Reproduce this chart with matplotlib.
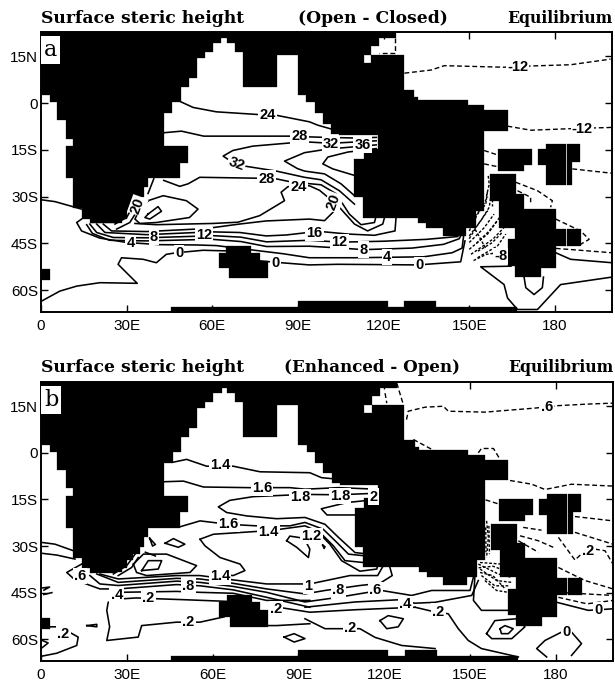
#!/usr/bin/env python3
import matplotlib
matplotlib.use('Agg')
import matplotlib.pyplot as plt

# ── land mask: (lat top, lat bottom, [(lon0, lon1), ...]) ─────────────────────
land_bands = [
    (22.8, 20.9, [(0, 124.4)]),
    (20.9, 19.2, [(0, 63.2), (65, 118.5)]),
    (19.2, 18.2, [(0, 60.3), (68, 118.5)]),
    (18.2, 16.3, [(0, 60.3), (68, 115.6)]),
    (16.3, 15.5, [(0, 57.3), (70.7, 115.6)]),
    (15.5, 14.4, [(0, 57.3), (70.7, 82.6), (90, 113), (115.6, 127)]),
    (14.4, 12.8, [(0, 54.7), (70.7, 82.6), (90, 113), (115.6, 127)]),
    (12.8, 8, [(0, 54.7), (70.7, 82.6), (90, 127)]),
    (8, 5.1, [(0, 51.7), (70.7, 82.6), (90, 127)]),
    (5.1, 4.2, [(0, 49), (90, 127)]),
    (4.2, 2.6, [(0, 49), (90, 130.8)]),
    (2.6, 2, [(3.1, 49), (92.9, 130.8)]),
    (2, 1, [(3.1, 49), (92.9, 132)]),
    (1, 0.4, [(3.1, 49), (92.9, 149.4)]),
    (0.4, -0.6, [(5.7, 46), (95.8, 149.4)]),
    (-0.6, -2.3, [(5.7, 46), (95.8, 155.2)]),
    (-2.3, -3.3, [(5.7, 46), (95.8, 163.4)]),
    (-3.3, -5.5, [(5.7, 43.1), (98.7, 163.4)]),
    (-5.5, -6.6, [(8.6, 43.1), (98.7, 163.4)]),
    (-6.6, -8.9, [(8.6, 43.1), (101.6, 163.4)]),
    (-8.9, -9.8, [(8.6, 43.1), (101.6, 155.2)]),
    (-9.8, -10.3, [(8.6, 43.1), (104.5, 155.2)]),
    (-10.3, -11.4, [(8.6, 43.1), (118, 155.2)]),
    (-11.4, -13.9, [(11.3, 43.1), (118, 155.2)]),
    (-13.9, -14.6, [(8.6, 51.5), (118, 155.2)]),
    (-14.6, -17.8, [(8.6, 51.5), (113, 155.2)]),
    (-17.8, -19.1, [(8.6, 51.5), (109.8, 155.2)]),
    (-19.1, -24.1, [(8.6, 48.6), (109.8, 155.2)]),
    (-24.1, -27, [(11.3, 37.5), (109.8, 155.2)]),
    (-27, -30.2, [(11.3, 36), (109.8, 155.2)]),
    (-30.2, -32.4, [(11.3, 34.6), (112.7, 155.2)]),
    (-32.4, -33.8, [(11.3, 32.3), (112.7, 155.2)]),
    (-33.8, -34.5, [(14.2, 32.3), (112.7, 155.2)]),
    (-34.5, -36.7, [(14.2, 30), (112.7, 152.3)]),
    (-36.7, -37.2, [(14.2, 30), (132, 152.3)]),
    (-37.2, -38.3, [(17.1, 28.2), (132, 152.3)]),
    (-38.3, -38.6, [(17.1, 25.9), (134.8, 152.3)]),
    (-38.6, -39.9, [(134.8, 152.3)]),
    (-39.9, -42.6, [(140.7, 148.8)]),
    # block east of 155E
    (-22.9, -29.1, [(157.3, 166.3)]),
    (-29.1, -31.3, [(157.3, 169.2)]),
    (-31.3, -34, [(160.5, 169.2)]),
    (-34, -39.9, [(160.5, 180.3)]),
    (-39.9, -40.4, [(166, 180.3)]),
    (-40.4, -43.7, [(166, 184), (184.4, 189)]),
    (-43.7, -45.8, [(163.4, 184), (184.4, 189)]),
    (-45.8, -52.3, [(163.4, 180.3)]),
    (-52.3, -52.8, [(166, 180.3)]),
    (-52.8, -55.8, [(166, 175)]),
    # islands
    (-14.8, -20, [(160.1, 172.1)]),
    (-20, -21.8, [(160.1, 169.2)]),
    (-13.2, -14.8, [(177, 184), (184.4, 188.8)]),
    (-14.8, -18.9, [(174.1, 184), (184.4, 188.8)]),
    (-18.9, -20, [(174.1, 184), (184.4, 186.1)]),
    (-20, -26.2, [(177, 184), (184.4, 186.1)]),
    (-45.8, -48, [(64.9, 73.7)]),
    (-48, -50.6, [(62.2, 76.6)]),
    (-50.6, -52.8, [(62.2, 79.5)]),
    (-52.8, -56, [(66, 79.5)]),
    (-53.1, -56.6, [(0, 3.1)]),
    (-63.5, -65.5, [(90, 121.4), (127.3, 138.3)]),
    (-65.5, -67.3, [(45.5, 166.9)]),
]

# ── panel a: contours as (lon, lat) ───────────────────────────────────────────
a_solid = [
    [(49, 0.4), (53.3, -1.4), (61.4, -2.8), (76.6, -3.7), (82.4, -3.9), (94, -6), (97, -7.1), (102, -8.4)],
    [(43.1, -9.5), (49.2, -9), (57, -10.6), (87, -10.6), (92.5, -10.8), (100, -11), (110, -11.2), (117.5, -11)],
    [(117.4, -12.1), (101.6, -12.9), (94, -12.5), (87, -12.8), (74.2, -13.8), (67.2, -15.2), (63.8, -17),
     (66.1, -18.4), (71.3, -20.2), (82.4, -21.8), (92.3, -23.8), (98.1, -24.6), (104.5, -28.1), (109.8, -32.4)],
    [(117.4, -13.4), (100, -14.8), (92.3, -15.9), (85.3, -18.6), (89.8, -21), (92.3, -21.8), (99.3, -22.7),
     (105.1, -25.9), (109.8, -29.7)],
    [(117.4, -14.6), (107.5, -15.7), (100.5, -17.3), (98.7, -19.5), (102.2, -21.1), (109.8, -23.2)],
    [(43, -24.8), (48.6, -26.7), (51.5, -25.9), (55.6, -23.8), (76.6, -24.1), (82.4, -24.3), (88.2, -25.4),
     (92.3, -25.7), (98.1, -26.2), (103.4, -29.1), (108, -35.6), (112.1, -39), (116.8, -38.3), (117.4, -36.1)],
    [(32.9, -38.6), (40.4, -39), (60.3, -38.6), (69, -38.2), (76.6, -36.1), (85.3, -31.3), (84.1, -28.6),
     (86.5, -26.8), (94, -26.5), (97.6, -28), (100.5, -30.2), (100.7, -32.4), (102.2, -33.7), (104.3, -31.8),
     (102.2, -30)],
    [(37.5, -31.3), (42.8, -29.7), (50.9, -31.3), (55, -34), (52, -36.7), (40.4, -38.3), (34.6, -38.6),
     (32.9, -37.2), (34.6, -34), (37.5, -31.3)],
    [(37.5, -35.6), (41, -33.2), (42.2, -34.7), (38.1, -37.2), (36.4, -36.7), (37.5, -35.6)],
    [(25.9, -38.8), (30, -36.7), (32.3, -32.9)],
    [(26.5, -40.4), (31.1, -38.3), (33.4, -35)],
    [(37.5, -29), (39.5, -24.3)],
    [(0, -31), (4.9, -31.6), (14.2, -34)],
    [(21.8, -38.8), (24.7, -41), (37, -41.2), (54.4, -40.4), (59.7, -40), (69.5, -38.8), (78.8, -37.8),
     (94, -37.2), (99.3, -37.7), (103.4, -34), (104.5, -33.4), (109.8, -38.8), (114.4, -41), (119.7, -38.8),
     (120.5, -36.1)],
    [(19.5, -38.8), (22.4, -41.5), (37, -42.2), (54.4, -41.5), (59.7, -41.3), (69.6, -41.5), (78.9, -42.6),
     (85.9, -42.3), (93.5, -41.5), (98.1, -41.2), (107.5, -42), (116.8, -42.4), (124, -41), (124.4, -36.1)],
    [(17.1, -38.8), (19.5, -41.5), (25.3, -43.1), (37, -43.2), (54.4, -42.7), (60, -42.5), (70, -43),
     (79, -44.5), (94, -44), (105, -44.6), (120, -44.3), (135, -43.7), (146, -42.8)],
    [(16, -39), (18, -41.8), (24, -44), (37, -44.2), (54.4, -43.8), (60, -43.7), (70, -44.4), (79, -46),
     (94, -45.9), (105, -46.5), (113, -47), (130, -46.5), (141, -45.3), (146.5, -43.5), (147, -42.6)],
    [(14.2, -37.2), (12.5, -38.3), (14.2, -41), (20.6, -43.3), (30, -44.7), (41.6, -45.4), (54.4, -45.5),
     (61.4, -45.7), (73, -47), (84.7, -48.3), (94, -49.6), (110, -49.6), (134, -49.3), (144, -48),
     (147.5, -46.5), (148, -42.8)],
    [(0.2, -63.5), (6.6, -60.3), (12.5, -58.7), (20.6, -57.6), (33.7, -57.8), (30.5, -54.9), (27, -51.7),
     (28.2, -49.6), (35.8, -50.1), (40.4, -51.2), (43.9, -48.5), (47.4, -48), (56.8, -47.2), (64.9, -47.4)],
    [(76.6, -50.6), (84.1, -51.2), (94, -51.9), (104, -51.7), (132, -51.9), (147, -50.9), (148.5, -44.2)],
    [(164.6, -52.3), (154, -52.5), (162.2, -58.2), (163.4, -62.5), (166.9, -66.2), (173.9, -66.2),
     (182, -58.2), (200, -55.8)],
    [(180.3, -48), (185.5, -50.1), (200, -51.2)],
    [(169.2, -55.8), (169.8, -59.2), (172.7, -61.4), (175.6, -59.2), (176, -55.8)],
]
a_dashed = [
    [(127.3, 9.6), (136.6, 10.6), (141.3, 12), (162.2, 11.5), (171.6, 11.9), (185.5, 12.3), (199.5, 14.1)],
    [(163.4, -7.4), (171.6, -8.7), (185.5, -8.2), (200, -7.8)],
    [(155.2, -15.2), (160.5, -16.8)],
    [(155.2, -19.5), (160.5, -20.5)],
    [(186.1, -21.1), (200, -22.5)],
    [(166.3, -25.4), (173.9, -28.1), (179.1, -31.3), (178.5, -33.4)],
    [(166.9, -28.1), (171.5, -30.2), (171.5, -31.8)],
    [(180.3, -37.2), (189, -41), (192, -43.7), (189, -45.3)],
    [(180.3, -46.6), (200, -48)],
    [(124, 20.9), (124, 16), (118.5, 16)],
]
a_fine = [
    [(150, -41), (152.9, -35.6), (155.8, -32.4), (156.4, -28.1)],
    [(150, -42.6), (154, -37.8), (157, -33.4), (157.5, -30.2)],
    [(150, -44.7), (155.2, -40), (158.7, -35.6)],
    [(150, -46.9), (156.4, -42), (159.9, -37.7)],
    [(150.6, -48.5), (158.2, -43.7), (162.2, -39.9)],
    [(152.9, -49.6), (159.9, -45.8), (162.8, -42)],
    [(150, -39.4), (151.7, -35)],
    [(151, -37.5), (154, -34), (156.5, -30)],
    [(152.5, -45), (157, -41), (160.8, -36.5)],
    [(153, -47.5), (158, -44.8), (161.5, -41.5)],
    [(151.5, -50.5), (156, -48.5), (160, -48)],
    [(150, -43.5), (153, -39), (156.5, -34.5)],
    [(156, -30), (157, -26), (156.6, -23)],
    [(158, -28), (158, -33)],
    [(150.5, -38), (153, -42), (156, -47)],
]
a_labels = [
    ('24', 79.3, -3.7), ('28', 90.6, -10.6), ('32', 101.6, -13.1), ('36', 112.7, -13.3), ('32', 68.4, -19.5, -20),
    ('28', 79, -24.2), ('24', 90.3, -27), ('20', 102.5, -31.8, 70), ('20', 33.9, -32.9, 70), ('4', 31.4, -44.8),
    ('8', 39.5, -42.8), ('12', 57, -42.4), ('16', 95.8, -41.7), ('12', 104.5, -44.7), ('8', 113, -47),
    ('4', 121.2, -49.3), ('0', 132.5, -51.9), ('0', 48.4, -48), ('0', 82.2, -51.2), ('-8', 161, -49),
    ('-12', 166.9, 11.7), ('-12', 189.6, -8.2),
]

# ── panel b ───────────────────────────────────────────────────────────────────
b_solid = [
    [(46.3, -3), (50.9, -2.1), (57.9, -4.3), (67.2, -4.3), (76.6, -6.1), (94, -6.4), (98.1, -8), (104, -8.5)],
    [(43.1, -9.3), (49.8, -9.1), (56.8, -11), (72.5, -11.2), (87, -11.2), (92.3, -11.7), (104, -11.2), (117.4, -11.7)],
    [(117.4, -13), (104, -13.5), (94, -13.4), (86.5, -13.6), (74.2, -14.1), (66, -15.3), (62, -17.4), (64.9, -19.2),
     (71.9, -20.3), (82.4, -21.2), (92.3, -20.8), (99.3, -23), (104, -27.2), (109.8, -32.1), (112.7, -32.4)],
    [(117.4, -15), (107, -16), (98, -18), (100, -20), (110, -20), (113, -18.5)],
    [(48.6, -23.8), (55.6, -21.9), (65.5, -23), (75.4, -23.5), (87, -23.5), (92.3, -22.4), (98.7, -24.6),
     (103.4, -28.8), (107.5, -32.6), (112.7, -33.1)],
    [(55.6, -27.8), (60.3, -26.2), (75.4, -25.3), (83.6, -24.6), (92.3, -23.5), (97.5, -25.6), (102.2, -29.9),
     (106.3, -34.7), (112.7, -35.3)],
    [(55.6, -27.8), (57.3, -29.9), (62.6, -33.7), (69.6, -35.8), (71.3, -37.9), (67.2, -39.5), (63, -39.2)],
    [(98.1, -26.7), (101, -29.4), (105.1, -34.7), (111.5, -38.1), (117.4, -37.4), (118.2, -34.2)],
    [(85.9, -28.3), (89.4, -30.4), (93.5, -33.7), (94, -31), (92, -27.5), (87, -26.8), (85.9, -28.3)],
    [(119.7, -36.3), (117.7, -39.5), (108, -39.5), (94, -42.2), (78.9, -42.2), (67.2, -40.9), (55.6, -39.5),
     (47.4, -39.5), (27, -40.6), (20.6, -39)],
    [(122, -36.9), (122.8, -39.5), (118.5, -42), (111.5, -42.7), (99.3, -44.3), (92.3, -45.4), (78.9, -43.8),
     (67.2, -42), (55.6, -40.6), (47.4, -40.4), (27, -41.7), (19.5, -39)],
    [(114.4, -44.9), (104, -46.5), (92.3, -48), (78.9, -44.9), (67.2, -43), (55.6, -41.7), (47.4, -41.3), (27, -42.7),
     (20.6, -42.2), (17.1, -39.5)],
    [(119.1, -44.3), (129.6, -45.9), (136.6, -44.3), (143.6, -44.3), (150, -44.3), (151.2, -40)],
    [(92.3, -49.7), (109.8, -48), (124.9, -47.3), (130.8, -48.4), (137.8, -48.1), (150.6, -45.9), (152.9, -41.1)],
    [(94, -49.7), (78.9, -46.5), (67.2, -44.1), (55.6, -42.8), (47.4, -42.4), (27, -43.8), (20.6, -43.8),
     (11.9, -40.9), (9, -38.5), (14.2, -35.8)],
    [(94, -47.5), (78.9, -47.5), (67.2, -45.2), (55.6, -44.9), (47.4, -44.6), (27, -44.9)],
    [(130.8, -49.7), (137.2, -51.1), (142.4, -51.8), (145.9, -56.6), (149.4, -60.4), (154, -63), (166.9, -65.7)],
    [(83, -49.7), (94, -51.3), (110, -50.5), (130.8, -49.7)],
    [(151.7, -40), (151.2, -47.5), (154, -50.7), (163.4, -50.7)],
    [(118.5, -54), (121.4, -52.4), (126.7, -53.4), (124.9, -56), (120.9, -56.6), (118.5, -54)],
    [(155.8, -58.2), (158.7, -54), (166.3, -53.4), (169.2, -56), (164.6, -59.8), (157.6, -59.8), (155.8, -58.2)],
    [(160.5, -56.6), (162.2, -55.6), (165.1, -56.6), (163.4, -58.2), (161, -58.2), (160.5, -56.6)],
    [(176.8, -65.7), (173.3, -63), (176.2, -60.4), (182, -57.7), (185.5, -57.7), (189, -61.4), (185.5, -65.2)],
    [(180.3, -48.1), (191.4, -50.7), (200, -50.2)],
    [(92.3, -53.4), (99.3, -56.6), (105, -56.6), (111.5, -56.6), (116.8, -59.4), (126.1, -62), (137.8, -63)],
    [(79.5, -55.6), (82.4, -55.6), (94, -55)],
    [(64, -52.8), (55.6, -54.5), (47.4, -54.5), (35.2, -55.6), (34, -59.3), (23, -60.4), (24, -56), (23, -50.7),
     (23.5, -48.1), (28.2, -47), (33.4, -46.7), (41.6, -47), (50.9, -47.3), (64.9, -47.8)],
    [(0, -28.8), (4.9, -29.4), (11.3, -31.5)],
    [(0, -32.3), (5.5, -32.9), (11.9, -34.2)],
    [(43.4, -29.1), (46.3, -27.6), (50.3, -29.4), (48, -30.4), (43.4, -29.1)],
    [(32.3, -35.8), (35.8, -32.6), (43.9, -32.6), (54.4, -36.3), (52.1, -38.5), (36.9, -39.5), (33.4, -38.5),
     (32.3, -35.8)],
    [(35.2, -37.9), (37.5, -34.7), (42.2, -34.7), (41, -37.4), (35.2, -37.9)],
    [(25.3, -39), (30, -36.3), (32.9, -32.6)],
    [(27, -39.5), (31.7, -36.9), (34, -33.7)],
    [(36.5, -32), (40, -33.2)],
    [(38, -27.5), (40, -29.5), (39, -30), (38, -27.5)],
    [(0.3, -43.5), (3, -43.2), (1, -44.2)],
    [(1, -45.6), (3.8, -45)],
    [(16, -55.6), (19.5, -55.2), (19.5, -56), (16, -55.6)],
    [(0, -60.2), (2.5, -61.2), (0, -63)],
    [(0, -65.5), (5.5, -64.5), (12.5, -62), (13, -59.3), (6.6, -56), (3, -56)],
    [(85, -59.3), (88.5, -58.2), (92.3, -59.8), (88.5, -60.9), (85, -59.3)],
    [(98.5, -29.7), (99.3, -30.2), (99, -30.8), (98.5, -29.7)],
]
b_dashed = [
    [(127.8, 10.7), (128.4, 13.4), (134.3, 14.7), (140.7, 15), (142.4, 13.4), (155.2, 13.1), (172.7, 14.4),
     (180.9, 15.2), (191.4, 15.7), (200, 16)],
    [(124.4, 22.4), (126.7, 15.5)],
    [(120.3, 19.2), (120.9, 16)],
    [(130.2, 4.3), (138.9, 0)],
    [(152.9, 0), (154, 1.4), (158.2, 1.4), (160.5, -2.1)],
    [(164, -8.9), (171.6, -10.1), (176.2, -11.8), (185.5, -10.1), (200, -10.7)],
    [(152.9, -14.4), (160.5, -16.6)],
    [(186.7, -20.5), (200, -21.9)],
    [(186.7, -25.6), (200, -29.4)],
    [(180.9, -27.2), (186.7, -34.5), (189.6, -32)],
    [(193.7, -31), (197.2, -31.5), (200, -35.8)],
    [(168.6, -24), (175, -24.9)],
    [(167.5, -26.7), (173.9, -28.3), (179.1, -30.4)],
    [(166.9, -28.3), (173.9, -32)],
    [(180.9, -36.9), (190.2, -41.1), (200, -43.8)],
    [(180.9, -44.9), (200, -45.9)],
    [(180.9, -46.5), (190.9, -48.6), (200, -47.5)],
]
b_fine = [
    [(155.8, -21.9), (156.4, -27.2), (155.8, -33.7)],
    [(156.6, -23.5), (156.8, -32.6)],
    [(155.5, -24), (155.6, -32)],
    [(152.9, -35.8), (159.9, -39), (164.6, -40.1)],
    [(153.5, -37.4), (159.3, -41.1), (164.6, -41.7)],
    [(154, -39.5), (158.7, -42.8), (163.4, -42.8)],
    [(155.2, -41.1), (159.3, -44.3), (163.4, -44.9)],
    [(153.5, -35.3), (161, -35.8)],
    [(153, -37), (158, -36.5), (161, -37.5)],
    [(153.5, -38.5), (158, -39.5), (162, -43.5)],
]
b_labels = [
    ('1.4', 62.8, -4), ('1.6', 77.2, -11.2), ('1.8', 90.5, -14.2), ('1.8', 104.6, -13.9), ('2', 116.2, -14.1),
    ('1.6', 65.5, -23), ('1.4', 79.5, -25.4), ('1.2', 94.5, -26.7), ('1', 93.5, -42.7), ('.8', 104, -44.3),
    ('.6', 117, -44.3), ('.4', 127.5, -48.6), ('.2', 139, -51.1), ('.2', 108, -56.3), ('1.4', 62.6, -39.8),
    ('.8', 51.5, -42.7), ('.4', 26.5, -45.7), ('.2', 37.5, -46.7), ('.6', 13.6, -39.7), ('.2', 82.2, -50.2),
    ('.2', 51.5, -54.5), ('.2', 7.8, -58.3), ('0', 194.9, -50.7), ('0', 183.8, -57.7), ('.6', 176.8, 14.9),
    ('.2', 191.4, -31.7),
]

x_ticks = [0, 30, 60, 90, 120, 150, 180]
x_labels = ['0', '30E', '60E', '90E', '120E', '150E', '180']
y_ticks = [15, 0, -15, -30, -45, -60]
y_labels = ['15N', '0', '15S', '30S', '45S', '60S']

W, H = 615.0, 683.0


def draw_panel(rect, letter, solid, dashed, fine, labels):
    ax = fig.add_axes([rect[0] / W, 1 - rect[3] / H, (rect[2] - rect[0]) / W, (rect[3] - rect[1]) / H])
    for top, bot, runs in land_bands:
        ax.broken_barh([(a, b - a) for a, b in runs], (bot, top - bot), facecolors='k',
                       edgecolor='k', linewidth=0.2, zorder=3)
    for c in solid:
        ax.plot([p[0] for p in c], [p[1] for p in c], color='k', lw=1.15, zorder=2)
    for c in dashed:
        ax.plot([p[0] for p in c], [p[1] for p in c], color='k', lw=1.0, ls=(0, (3.5, 2)), zorder=2)
    for c in fine:
        ax.plot([p[0] for p in c], [p[1] for p in c], color='k', lw=1.0, ls=(0, (2, 1.3)), zorder=2)
    # labels sit above the land, some of them touch the coast
    for lab in labels:
        rot = lab[3] if len(lab) > 3 else 0
        ax.text(lab[1], lab[2], lab[0], ha='center', va='center', fontsize=10.5, family='Liberation Sans',
                fontweight='bold', rotation=rot, zorder=3.5,
                bbox=dict(facecolor='w', edgecolor='none', pad=0.8))
    ax.set_xlim(0, 200)
    ax.set_ylim(-67, 22.8)
    ax.set_xticks(x_ticks, x_labels, family='Liberation Sans', fontsize=11)
    ax.set_yticks(y_ticks, y_labels, family='Liberation Sans', fontsize=11)
    ax.tick_params(direction='in', top=True, right=True, length=5, width=1, pad=5)
    ax.tick_params(axis='y', pad=2)
    for s in ax.spines.values():
        s.set_linewidth(1.4)
        s.set_zorder(5)
    ax.text(0.005, 0.975, letter, transform=ax.transAxes, ha='left', va='top', fontsize=16,
            family='DejaVu Serif', zorder=6,
            bbox=dict(facecolor='w', edgecolor='none', pad=2))
    return ax


fig = plt.figure(figsize=(6.15, 6.83), dpi=100)
draw_panel((41, 32, 612, 312), 'a', a_solid, a_dashed, a_fine, a_labels)
draw_panel((41, 382, 613, 661), 'b', b_solid, b_dashed, b_fine, b_labels)

tkw = dict(family='DejaVu Serif', fontweight='bold', va='baseline')
fig.text(41 / W, 1 - 23 / H, 'Surface steric height', fontsize=12.3, **tkw)
fig.text(298 / W, 1 - 23 / H, '(Open - Closed)', fontsize=12.3, **tkw)
fig.text(612 / W, 1 - 23 / H, 'Equilibrium', ha='right', fontsize=11.3, **tkw)
fig.text(41 / W, 1 - 372 / H, 'Surface steric height', fontsize=12.3, **tkw)
fig.text(284 / W, 1 - 372 / H, '(Enhanced - Open)', fontsize=12.1, **tkw)
fig.text(613 / W, 1 - 372 / H, 'Equilibrium', ha='right', fontsize=11.3, **tkw)

fig.savefig('out.png', dpi=100)
